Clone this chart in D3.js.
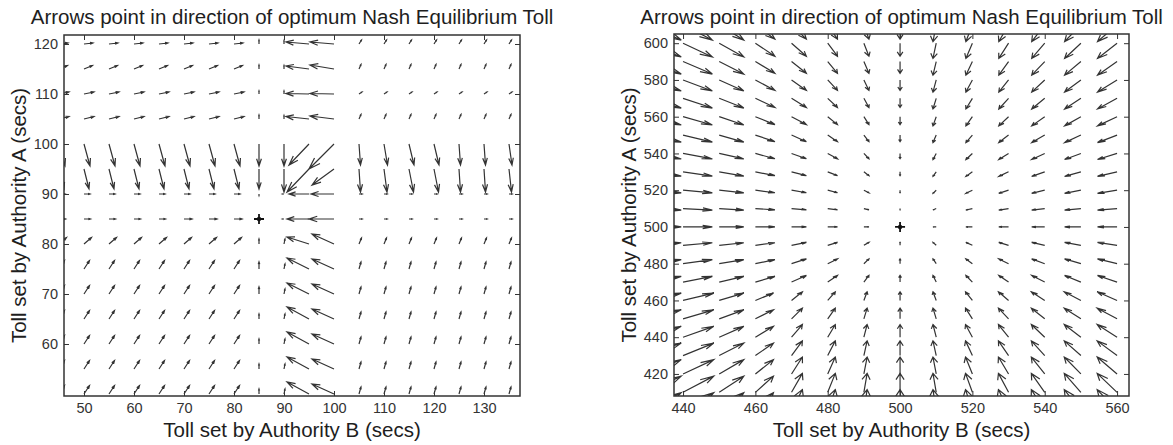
<!DOCTYPE html>
<html>
<head>
<meta charset="utf-8">
<script src="https://cdn.jsdelivr.net/npm/d3@7"></script>
<style>
body {margin:0; background:#fff;}
svg text {font-family:"Liberation Sans", Arial, sans-serif; fill:#1e1e1e;}
</style>
</head>
<body>
<svg id="fig" width="1173" height="445"></svg>
<script>
// ---- left panel: grid and arrow components (secs) ----
var leftCols = [45,50,55,60,65,70,75,80,85,90,95,100,105,110,115,120,125,130,135];
var leftRows = [120,115,110,105,100,95,90,85,80,75,70,65,60,55,50,45];
var leftU = [
	[1.8,1.8,1.8,1.8,1.8,1.8,1.8,1.8, 0, 0, -4.6,-4.8, 0.5,0.5,0.5,0.5,0.5,0.5,0.5],
	[1.7,1.7,1.7,1.7,1.7,1.7,1.7,1.7, 0, 0, -4.6,-4.8, 0.4,0.4,0.4,0.4,0.4,0.4,0.4],
	[2.0,2.0,2.0,2.0,2.0,2.0,2.0,2.0, 0, 0, -4.6,-4.8, 0.6,0.6,0.6,0.6,0.6,0.6,0.6],
	[2.0,2.0,2.0,2.0,2.0,2.0,2.0,2.0, 0, 0, -4.6,-4.8, 0.4,0.4,0.4,0.4,0.4,0.4,0.4],
	[1.2,1.2,1.2,1.2,1.2,1.2,1.2,1.2, 0, 0, -4.0,-5.0, 0.3,0.7,1.0,1.0,0.3,0.3,0.6],
	[1.0,1.0,1.0,1.0,1.0,1.0,1.0,1.0, 0, 0, -4.4,-4.4, 0.3,0.6,0.9,0.9,0.3,0.3,0.5],
	[1.2,1.2,1.2,1.2,1.2,1.2,1.2,1.2, 0, -0.3, -4.0,-4.6, 0.6,0.6,0.6,0.6,0.6,0.6,0.6],
	[1.3,1.3,1.3,1.3,1.3,1.6,1.6,1.6, 0, -0.3, -4.4,-5.0, 0.6,0.6,0.6,0.6,0.6,0.6,0.6],
	[1.5,1.5,1.5,1.5,1.5,1.5,1.5,1.5, 0, 0.2, -4.4,-4.4, 0.5,0.5,0.5,0.5,0.5,0.5,0.5],
	[1.1,1.1,1.1,1.1,1.1,1.1,1.1,1.1, 0, 0.2, -4.4,-4.4, 0.4,0.4,0.4,0.4,0.4,0.4,0.4],
	[1.1,1.1,1.1,1.1,1.1,1.1,1.1,1.1, 0, 0.2, -4.4,-4.4, 0.4,0.4,0.4,0.4,0.4,0.4,0.4],
	[1.1,1.1,1.1,1.1,1.1,1.1,1.1,1.1, 0, 0.2, -4.4,-4.4, 0.4,0.4,0.4,0.4,0.4,0.4,0.4],
	[1.1,1.1,1.1,1.1,1.1,1.1,1.1,1.1, 0, 0.2, -4.4,-4.4, 0.4,0.4,0.4,0.4,0.4,0.4,0.4],
	[1.1,1.1,1.1,1.1,1.1,1.1,1.1,1.1, 0, 0.2, -4.4,-4.4, 0.4,0.4,0.4,0.4,0.4,0.4,0.4],
	[1.1,1.1,1.1,1.1,1.1,1.1,1.1,1.1, 0, 0.2, -4.4,-4.4, 0.4,0.4,0.4,0.4,0.4,0.4,0.4],
	[1.1,1.1,1.1,1.1,1.1,1.1,1.1,1.1, 0, 0.2, -4.4,-4.4, 0.4,0.4,0.4,0.4,0.4,0.4,0.4]
];
var leftV = [
	[0.2,0.2,0.2,0.2,0.2,0.2,0.2,0.2, 0.8, 0.7, 0.4,0.4, 0.8,0.8,0.8,0.8,0.8,0.8,0.8],
	[0.7,0.7,0.7,0.7,0.7,0.7,0.7,0.7, 0.8, 0.7, 0.6,0.8, 0.9,0.9,0.9,0.9,0.9,0.9,0.9],
	[0.4,0.4,0.4,0.4,0.4,0.4,0.4,0.4, 0.6, 0.6, 0.1,0.1, 0.4,0.4,0.4,0.4,0.4,0.4,0.4],
	[0.5,0.5,0.5,0.5,0.5,0.5,0.5,0.5, 0.8, 0.7, 0.5,0.6, 0.9,0.9,0.9,0.9,0.9,0.9,0.9],
	[-4.4,-4.4,-4.4,-4.4,-4.4,-4.4,-4.4,-4.4, -4.4, -4.4, -4.2,-5.0, -4.2,-4.2,-4.2,-4.2,-4.2,-4.2,-4.2],
	[-4.0,-4.0,-4.0,-4.0,-4.0,-4.0,-4.0,-4.0, -4.0, -4.6, -4.6,-3.2, -4.6,-4.6,-4.6,-4.6,-4.6,-4.6,-4.6],
	[0,0,0,0,0,0,0,0, -0.3, 0, 0,0, 0,0,0,0,0,0,0],
	[0,0,0,0,0,0,0,0, 0, 0, 0,0, 0,0,0,0,0,0,0],
	[1.3,1.3,1.3,1.3,1.3,1.3,1.3,1.3, 1.0, 1.0, 1.4,2.0, 1.2,1.2,1.2,1.2,1.2,1.2,1.2],
	[1.7,1.7,1.7,1.7,1.7,1.7,1.7,1.7, 1.4, 1.0, 2.2,2.0, 1.4,1.4,1.4,1.4,1.4,1.4,1.4],
	[1.7,1.7,1.7,1.7,1.7,1.7,1.7,1.7, 1.4, 1.0, 2.2,2.0, 1.4,1.4,1.4,1.4,1.4,1.4,1.4],
	[1.7,1.7,1.7,1.7,1.7,1.7,1.7,1.7, 1.0, 1.0, 2.4,2.0, 1.4,1.4,1.4,1.4,1.4,1.4,1.4],
	[1.7,1.7,1.7,1.7,1.7,1.7,1.7,1.7, 1.0, 1.0, 2.4,2.0, 1.4,1.4,1.4,1.4,1.4,1.4,1.4],
	[1.7,1.7,1.7,1.7,1.7,1.7,1.7,1.7, 1.0, 1.0, 2.4,2.0, 1.4,1.4,1.4,1.4,1.4,1.4,1.4],
	[1.7,1.7,1.7,1.7,1.7,1.7,1.7,1.7, 1.0, 1.0, 2.4,2.0, 1.4,1.4,1.4,1.4,1.4,1.4,1.4],
	[1.7,1.7,1.7,1.7,1.7,1.7,1.7,1.7, 1.0, 1.0, 2.4,2.0, 1.4,1.4,1.4,1.4,1.4,1.4,1.4]
];
var leftXTicks = [50,60,70,80,90,100,110,120,130];
var leftYTicks = [60,70,80,90,100,110,120];
var leftEquilibrium = [85,85];

// ---- right panel ----
var rightCols = [430,440,450,460,470,480,490,500,510,520,530,540,550,560];
var rightRows = [610,600,590,580,570,560,550,540,530,520,510,500,490,480,470,460,450,440,430,420,410,400];
var rightU = [
	[9.5,8.1,6.8,5.4,4.1,2.7,1.4,0,-0.9,-1.8,-2.7,-3.6,-4.5,-5.4],
	[9.5,8.1,6.8,5.4,4.1,2.7,1.4,0,-0.9,-1.8,-2.7,-3.6,-4.5,-5.4],
	[9.5,8.1,6.8,5.4,4.1,2.7,1.4,0,-0.9,-1.8,-2.7,-3.6,-4.5,-5.4],
	[9.5,8.1,6.8,5.4,4.1,2.7,1.4,0,-0.9,-1.8,-2.7,-3.6,-4.5,-5.4],
	[9.5,8.1,6.8,5.4,4.1,2.7,1.4,0,-0.9,-1.8,-2.7,-3.6,-4.5,-5.4],
	[9.5,8.1,6.8,5.4,4.1,2.7,1.4,0,-0.9,-1.8,-2.7,-3.6,-4.5,-5.4],
	[9.5,8.1,6.8,5.4,4.1,2.7,1.4,0,-0.9,-1.8,-2.7,-3.6,-4.5,-5.4],
	[9.5,8.1,6.8,5.4,4.1,2.7,1.4,0,-0.9,-1.8,-2.7,-3.6,-4.5,-5.4],
	[9.5,8.1,6.8,5.4,4.1,2.7,1.4,0,-0.9,-1.8,-2.7,-3.6,-4.5,-5.4],
	[9.5,8.1,6.8,5.4,4.1,2.7,1.4,0,-0.9,-1.8,-2.7,-3.6,-4.5,-5.4],
	[9.5,8.1,6.8,5.4,4.1,2.7,1.4,0,-0.9,-1.8,-2.7,-3.6,-4.5,-5.4],
	[9.5,8.1,6.8,5.4,4.1,2.7,1.4,0,-0.9,-1.8,-2.7,-3.6,-4.5,-5.4],
	[9.5,8.1,6.8,5.4,4.1,2.7,1.4,0,-0.9,-1.8,-2.7,-3.6,-4.5,-5.4],
	[9.5,8.1,6.8,5.4,4.1,2.7,1.4,0,-0.9,-1.8,-2.7,-3.6,-4.5,-5.4],
	[9.5,8.1,6.8,5.4,4.1,2.7,1.4,0,-0.9,-1.8,-2.7,-3.6,-4.5,-5.4],
	[9.5,8.5,6.8,5.0,3.0,2.1,0.9,0,-0.9,-1.9,-2.8,-3.7,-4.6,-5.5],
	[9.5,8.5,6.8,5.0,3.0,2.1,0.9,0,-0.9,-1.9,-2.8,-3.7,-4.6,-5.5],
	[9.5,8.5,6.8,5.0,3.0,2.1,0.9,0,-0.9,-1.9,-2.8,-3.7,-4.6,-5.5],
	[9.5,8.5,6.8,5.0,3.0,2.1,0.9,0,-0.9,-1.9,-2.8,-3.7,-4.6,-5.5],
	[9.5,8.5,6.8,5.0,3.0,2.1,0.9,0,-0.9,-1.9,-2.8,-3.7,-4.6,-5.5],
	[9.5,8.5,6.8,5.0,3.0,2.1,0.9,0,-0.9,-1.9,-2.8,-3.7,-4.6,-5.5],
	[9.5,8.5,6.8,5.0,3.0,2.1,0.9,0,-0.9,-1.9,-2.8,-3.7,-4.6,-5.5]
];
var rightV = [
	[-8.3,-8.3,-8.3,-7.8,-7.8,-7.8,-7.8,-7.8,-9.1,-9.1,-9.1,-9.1,-9.1,-9.1],
	[-7.5,-7.5,-7.5,-7.1,-7.1,-7.1,-7.1,-7.1,-8.3,-8.3,-8.3,-8.3,-8.3,-8.3],
	[-6.8,-6.8,-6.8,-6.4,-6.4,-6.4,-6.4,-6.4,-7.4,-7.4,-7.4,-7.4,-7.4,-7.4],
	[-6.0,-6.0,-6.0,-5.7,-5.7,-5.7,-5.7,-5.7,-6.6,-6.6,-6.6,-6.6,-6.6,-6.6],
	[-5.3,-5.3,-5.3,-5.0,-5.0,-5.0,-5.0,-5.0,-5.8,-5.8,-5.8,-5.8,-5.8,-5.8],
	[-4.5,-4.5,-4.5,-4.3,-4.3,-4.3,-4.3,-4.3,-5.0,-5.0,-5.0,-5.0,-5.0,-5.0],
	[-3.8,-3.8,-3.8,-3.6,-3.6,-3.6,-3.6,-3.6,-4.1,-4.1,-4.1,-4.1,-4.1,-4.1],
	[-3.0,-3.0,-3.0,-2.9,-2.9,-2.9,-2.9,-2.9,-3.3,-3.3,-3.3,-3.3,-3.3,-3.3],
	[-2.3,-2.3,-2.3,-2.1,-2.1,-2.1,-2.1,-2.1,-2.5,-2.5,-2.5,-2.5,-2.5,-2.5],
	[-1.5,-1.5,-1.5,-1.4,-1.4,-1.4,-1.4,-1.4,-1.7,-1.7,-1.7,-1.7,-1.7,-1.7],
	[-0.8,-0.8,-0.8,-0.7,-0.7,-0.7,-0.7,-0.7,-0.8,-0.8,-0.8,-0.8,-0.8,-0.8],
	[0,0,0,0,0,0,0,0,0,0,0,0,0,0],
	[1.4,1.4,1.4,1.4,1.6,1.6,1.6,1.6,1.6,1.6,1.6,1.6,1.6,1.6],
	[2.2,2.2,2.2,2.2,2.6,2.6,2.6,2.6,2.6,2.6,2.6,2.6,2.6,2.6],
	[3.1,3.1,3.1,3.1,3.6,3.6,3.6,3.6,3.6,3.6,3.6,3.6,3.6,3.6],
	[4.0,4.0,4.0,4.0,4.7,4.7,4.7,4.7,4.7,4.7,4.7,4.7,4.7,4.7],
	[4.9,4.9,4.9,4.9,5.8,5.8,5.8,5.8,5.8,5.8,5.8,5.8,5.8,5.8],
	[5.9,5.9,5.9,5.9,6.9,6.9,6.9,6.9,6.9,6.9,6.9,6.9,6.9,6.9],
	[6.8,6.8,6.8,6.8,8.0,8.0,8.0,8.0,8.0,8.0,8.0,8.0,8.0,8.0],
	[7.8,7.8,7.8,7.8,9.2,9.2,9.2,9.2,9.2,9.2,9.2,9.2,9.2,9.2],
	[8.8,8.8,8.8,8.8,10.3,10.3,10.3,10.3,10.3,10.3,10.3,10.3,10.3,10.3],
	[9.8,9.8,9.8,9.8,11.5,11.5,11.5,11.5,11.5,11.5,11.5,11.5,11.5,11.5]
];
var rightXTicks = [440,460,480,500,520,540,560];
var rightYTicks = [420,440,460,480,500,520,540,560,580,600];
var rightEquilibrium = [500,500];

var titleText = 'Arrows point in direction of optimum Nash Equilibrium Toll';
var xLabelText = 'Toll set by Authority B (secs)';
var yLabelText = 'Toll set by Authority A (secs)';

function Quiver(svg, id, box, xDomain, yDomain) {
	this.svg = svg;
	this.id = id;
	this.box = box;
	this.x = d3.scaleLinear().domain(xDomain).range([box.x0, box.x1]);
	this.y = d3.scaleLinear().domain(yDomain).range([box.y1, box.y0]);
	this.data = [];
}

// matlab style arrow head
Quiver.prototype.alpha = 0.33;
Quiver.prototype.beta = 0.33;

Quiver.prototype.Create = function(cols, rows, U, V) {
	var _this = this;
	rows.forEach(function(yv, i) {
		cols.forEach(function(xv, j) {
			var u = U[i][j], v = V[i][j];
			if (u === 0 && v === 0) return;
			_this.data.push({x: xv, y: yv, u: u, v: v});
		});
	});
}

Quiver.prototype.arrow = function(d) {
	var x = this.x, y = this.y, a = this.alpha, b = this.beta;
	var tx = d.x + d.u, ty = d.y + d.v;
	var h1 = [tx - a * (d.u + b * d.v), ty - a * (d.v - b * d.u)];
	var h2 = [tx - a * (d.u - b * d.v), ty - a * (d.v + b * d.u)];
	return 'M' + x(d.x) + ',' + y(d.y) + 'L' + x(tx) + ',' + y(ty) +
		'M' + x(h1[0]) + ',' + y(h1[1]) + 'L' + x(tx) + ',' + y(ty) + 'L' + x(h2[0]) + ',' + y(h2[1]);
}

Quiver.prototype.Render = function(xTicks, yTicks, eq) {
	var _this = this;
	var box = this.box, svg = this.svg;
	var w = box.x1 - box.x0, h = box.y1 - box.y0;

	svg.append('clipPath').attr('id', 'clip' + this.id)
		.append('rect').attr('x', box.x0).attr('y', box.y0).attr('width', w).attr('height', h);

	var layer = svg.append('g').attr('clip-path', 'url(#clip' + this.id + ')');
	layer.selectAll('path.arrow')
		.data(_this.data)
		.enter()
		.append('path')
		.attr('class', 'arrow')
		.attr('d', function(d) {return _this.arrow(d);})
		.attr('stroke', '#333')
		.attr('stroke-width', 1.2)
		.attr('fill', 'none');

	// equilibrium marker
	var ex = this.x(eq[0]), ey = this.y(eq[1]);
	layer.append('path')
		.attr('d', 'M' + (ex - 5) + ',' + ey + 'H' + (ex + 5) + 'M' + ex + ',' + (ey - 5) + 'V' + (ey + 5))
		.attr('stroke', '#111').attr('stroke-width', 1.8);
	layer.append('circle').attr('cx', ex).attr('cy', ey).attr('r', 2.2).attr('fill', '#111');

	var axes = [
		{ax: d3.axisBottom(this.x).tickValues(xTicks).tickPadding(7), t: 'translate(0,' + box.y1 + ')'},
		{ax: d3.axisLeft(this.y).tickValues(yTicks).tickPadding(6), t: 'translate(' + box.x0 + ',0)'},
		{ax: d3.axisTop(this.x).tickValues(xTicks).tickFormat(''), t: 'translate(0,' + box.y0 + ')'},
		{ax: d3.axisRight(this.y).tickValues(yTicks).tickFormat(''), t: 'translate(' + box.x1 + ',0)'}
	];
	axes.forEach(function(a) {
		var g = svg.append('g').attr('transform', a.t)
			.call(a.ax.tickSize(-5).tickSizeOuter(0));
		g.select('.domain').remove();
		g.selectAll('line').attr('stroke', '#333').attr('stroke-width', 1);
		g.attr('font-family', null).attr('font-size', null);
		g.selectAll('text').style('font-size', '14.5px').style('fill', '#333');
	});

	svg.append('rect')
		.attr('x', box.x0).attr('y', box.y0).attr('width', w).attr('height', h)
		.attr('fill', 'none').attr('stroke', '#333').attr('stroke-width', 1.5);

	var cx = (box.x0 + box.x1) / 2, cy = (box.y0 + box.y1) / 2;
	svg.append('text').attr('x', cx).attr('y', 24).attr('text-anchor', 'middle')
		.style('font-size', '20.5px').text(titleText);
	svg.append('text').attr('x', cx).attr('y', 437).attr('text-anchor', 'middle')
		.style('font-size', '20.5px').text(xLabelText);
	svg.append('text').attr('transform', 'translate(' + (box.x0 - 38) + ',' + cy + ') rotate(-90)')
		.attr('text-anchor', 'middle')
		.style('font-size', '20.5px').text(yLabelText);
}

var svg = d3.select('#fig');

var left = new Quiver(svg, 'L', {x0: 64, x1: 520, y0: 35, y1: 396}, [46, 137.2], [49.6, 121.8]);
left.Create(leftCols, leftRows, leftU, leftV);
left.Render(leftXTicks, leftYTicks, leftEquilibrium);

var right = new Quiver(svg, 'R', {x0: 674, x1: 1129, y0: 34, y1: 396}, [437.5, 563.3], [408, 605]);
right.Create(rightCols, rightRows, rightU, rightV);
right.Render(rightXTicks, rightYTicks, rightEquilibrium);
</script>
</body>
</html>
